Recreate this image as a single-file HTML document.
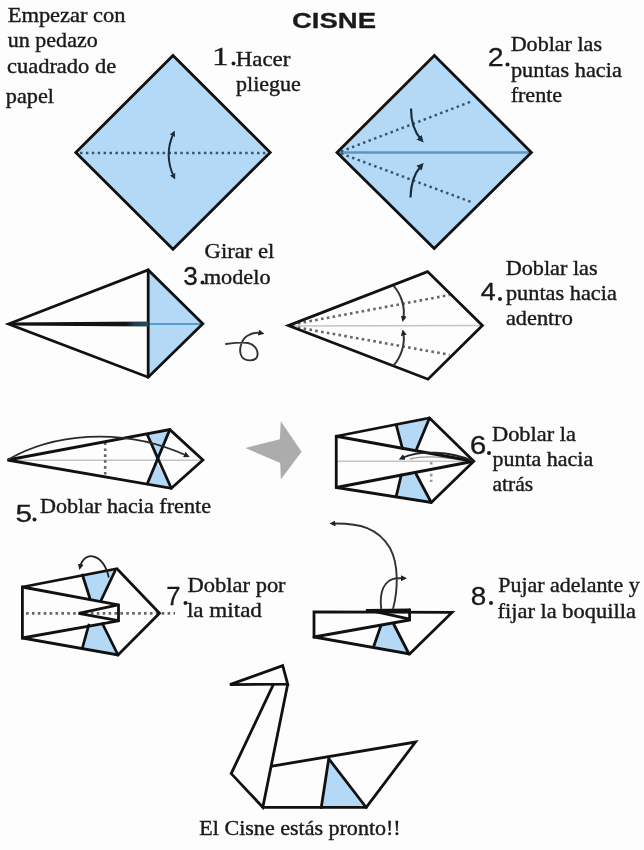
<!DOCTYPE html>
<html><head><meta charset="utf-8">
<style>
html,body{margin:0;padding:0;background:#fdfdfd;width:644px;height:850px;overflow:hidden}
svg{display:block;will-change:transform;filter:blur(0.3px)}
.t{font-family:"Liberation Serif",serif;font-size:21.5px;fill:#1a1a1a;stroke:#1a1a1a;stroke-width:0.4}
.n{font-family:"Liberation Sans",sans-serif;fill:#1a1a1a;stroke:#1a1a1a;stroke-width:0.3}
.k{stroke:#111;stroke-width:2.8;fill:none;stroke-linejoin:miter;stroke-miterlimit:3;stroke-linecap:round}
.bl{fill:#b4d9f6}
.dot{stroke:#38566c;stroke-width:2.5;stroke-dasharray:2.5 3.4;fill:none}
.gd{stroke:#666;stroke-width:2.6;stroke-dasharray:2.6 3.3;fill:none}
.thin{stroke:#222;stroke-width:1.7;fill:none;stroke-linecap:round}
.gray{stroke:#b8b8b8;stroke-width:1.6;fill:none}
</style></head><body>
<svg width="644" height="850" viewBox="0 0 644 850">
<defs>
<marker id="ah" markerUnits="userSpaceOnUse" markerWidth="8" markerHeight="8" refX="3" refY="3.5" orient="auto" viewBox="0 0 8 7">
<path d="M0,0 L7,3.5 L0,7 z" fill="#1d2d3a"/></marker>
<marker id="ahr" markerUnits="userSpaceOnUse" markerWidth="6.5" markerHeight="6.5" refX="3" refY="3.5" orient="auto-start-reverse" viewBox="0 0 8 7">
<path d="M0,0 L7,3.5 L0,7 z" fill="#1d2d3a"/></marker>
<marker id="ahk" markerUnits="userSpaceOnUse" markerWidth="8" markerHeight="8" refX="3" refY="3.5" orient="auto" viewBox="0 0 8 7">
<path d="M0,0 L7,3.5 L0,7 z" fill="#222"/></marker>
<marker id="ahs" markerUnits="userSpaceOnUse" markerWidth="6" markerHeight="6" refX="2.5" refY="3" orient="auto" viewBox="0 0 6 6">
<path d="M0,0 L6,3 L0,6 z" fill="#222"/></marker>
<linearGradient id="g3" x1="0" x2="1" y1="0" y2="0"><stop offset="0" stop-color="#111"/><stop offset="0.84" stop-color="#141414"/><stop offset="0.9" stop-color="#1d3d4a"/><stop offset="1" stop-color="#24505f"/></linearGradient>
</defs>
<!-- Step 1 -->
<polygon class="bl" points="173,55.5 270.2,152.4 173,249.2 75.8,152.4"/>
<line class="dot" x1="80" y1="152.9" x2="268" y2="152.9"/>
<path d="M173.4,133.5 Q163.8,155 173.7,176.5" stroke="#1d2d3a" stroke-width="2" fill="none" marker-start="url(#ahr)" marker-end="url(#ahr)"/>
<polygon class="k" points="173,55.5 270.2,152.4 173,249.2 75.8,152.4"/>

<!-- Step 2 -->
<polygon class="bl" points="434.4,55.6 531.4,152.4 434.2,248.5 337,152.5"/>
<line x1="339" y1="152.5" x2="530" y2="152.5" stroke="#5a97c4" stroke-width="2.5"/>
<line class="dot" x1="341" y1="151.5" x2="472.5" y2="101"/>
<line class="dot" x1="341" y1="153.5" x2="472.5" y2="202.5"/>
<polygon class="k" points="434.4,55.6 531.4,152.4 434.2,248.5 337,152.5"/>
<path d="M411,108.6 Q411,128 421,139.5" stroke="#1d2d3a" stroke-width="2.2" fill="none" marker-end="url(#ah)"/>
<path d="M410.5,197.5 Q411,177 421,166" stroke="#1d2d3a" stroke-width="2.2" fill="none" marker-end="url(#ah)"/>

<!-- Step 3 -->
<polygon class="bl" points="148.2,270 202.8,323.8 148.2,377.2"/>
<line x1="148.2" y1="324" x2="202" y2="324" stroke="#5a9dcc" stroke-width="2.2"/>
<polygon class="k" points="8.5,324 148.2,270 202.8,323.8 148.2,377.2"/>
<line class="k" x1="148.2" y1="270" x2="148.2" y2="377.2"/>
<polygon points="10,322.5 148.2,321.6 148.2,326.4 10,325.5" fill="url(#g3)"/>
<path d="M226,344 C234,343 242,342 248,343 C256,345 259,352 257,357 C255,361 246,362 242,357 C238,351 241,340 247,336 C252,333 256,332 261,333" stroke="#333" stroke-width="1.9" fill="none" stroke-linecap="round" marker-end="url(#ahs)"/>

<!-- Step 4 -->
<line x1="290" y1="326" x2="481" y2="325.5" stroke="#c4c4c4" stroke-width="1.5"/>
<line class="gd" x1="292" y1="324.5" x2="449.5" y2="295"/>
<line class="gd" x1="292" y1="326.5" x2="449.5" y2="354.8"/>
<polygon class="k" points="288.3,325.6 427.6,271.6 482.4,325.4 428,379.2"/>
<path d="M393.4,285.6 C401,294 405.5,307 403.3,318.5" stroke="#333" stroke-width="2" fill="none" marker-end="url(#ahs)"/>
<path d="M393.4,365.7 C401,357 405.5,344 403.3,333" stroke="#333" stroke-width="2" fill="none" marker-end="url(#ahs)"/>

<!-- Step 5 -->
<polygon class="bl" points="147.3,434.75 169.8,429.6 155.8,460.5"/>
<polygon class="bl" points="147.3,483.7 171.3,488.3 155.8,460.5"/>
<line x1="8" y1="460.3" x2="200" y2="460.3" stroke="#c4c4c4" stroke-width="1.5"/>
<line class="gd" x1="105.2" y1="442.5" x2="105.2" y2="475"/>
<polygon class="k" points="7.5,460 169.8,429.6 202.9,460 171.3,488.3"/>
<line class="k" x1="147.3" y1="434.75" x2="171.3" y2="488.3"/>
<line class="k" x1="169.8" y1="429.6" x2="147.3" y2="483.7"/>
<path d="M7.5,460 C50,435 120,425 186.5,455.5" stroke="#2a2a2a" stroke-width="1.8" fill="none" marker-end="url(#ahs)"/>

<!-- Gray arrow -->
<polygon fill="#acacac" points="245.4,447.9 279.8,439.2 280.8,421.2 301.6,451.7 280.8,479.4 280.2,463.1"/>

<!-- Step 6 -->
<polygon class="bl" points="396.25,425 429.5,418 416.25,450 402.5,448.75"/>
<polygon class="bl" points="396.25,496.25 431.25,502.5 416.25,474.25 401.25,475"/>
<line x1="337" y1="461.25" x2="472" y2="461.25" stroke="#c4c4c4" stroke-width="1.5"/>
<line class="gd" x1="431.2" y1="462" x2="431.2" y2="482" style="stroke:#999"/>
<path d="M470,462 C450,457 425,455 410,459" stroke="#999" stroke-width="1.4" fill="none"/>
<polygon class="k" points="336.25,436.25 429.5,418 473.75,461.25 431.25,502.5 336.25,487.5"/>
<polyline class="k" points="336.25,436.25 473.75,461.25 336.25,487.5"/>
<line class="k" x1="396.25" y1="425" x2="402.5" y2="448.75"/>
<line class="k" x1="429.5" y1="418" x2="416.25" y2="450"/>
<line class="k" x1="396.25" y1="496.25" x2="401.25" y2="475"/>
<line class="k" x1="431.25" y1="502.5" x2="416.25" y2="474.25"/>
<path d="M473,461 C450,451 420,450 402,458" stroke="#222" stroke-width="1.8" fill="none" marker-end="url(#ahs)"/>

<!-- Step 7 -->
<polygon class="bl" points="82.5,575 116,569.5 101.25,600 90,598.75"/>
<polygon class="bl" points="82.5,647.5 118,655 102.5,623.75 88.75,625"/>
<line class="gd" x1="26" y1="613.4" x2="175" y2="613.4"/>
<polygon class="k" points="22.4,587 117,568.75 159.5,613.2 118,655 22.4,638"/>
<polyline class="k" points="22.4,587 118.5,604.8 118.5,620.8 22.4,638"/>
<polyline class="k" points="117,605.2 78.6,613.3 117,620.4"/>
<line class="k" x1="82.5" y1="575" x2="90" y2="598.75"/>
<line class="k" x1="115" y1="571" x2="101.25" y2="600"/>
<line class="k" x1="82.5" y1="647.5" x2="88.75" y2="625"/>
<line class="k" x1="118" y1="655" x2="102.5" y2="623.75"/>
<path d="M108.8,577.5 C103,552.5 84,550.5 80.2,566.5" stroke="#222" stroke-width="1.8" fill="none" marker-end="url(#ahs)"/>

<!-- Step 8 -->
<polygon class="bl" points="381,625.4 393.4,623.5 409,654 373.5,647"/>
<polygon class="k" points="314,611.8 452,612.4 409.6,654 314,637"/>
<polyline class="k" points="314,637 409.6,620 409.6,610"/>
<polyline class="k" points="367,610.5 409.6,610 "/><line class="k" x1="372" y1="610.8" x2="409.6" y2="619.2"/>
<line class="k" x1="381" y1="625.4" x2="373.5" y2="647"/>
<line class="k" x1="393.4" y1="623.5" x2="409" y2="654"/>
<path d="M393,609 C398,590 399,565 390,548 C378,528 360,523 333,523.5" stroke="#333" stroke-width="1.9" fill="none" marker-end="url(#ahs)"/>
<path d="M381.3,609 C379,592 384,580 396,578.3 L403.5,578.2" stroke="#333" stroke-width="1.9" fill="none" marker-end="url(#ahs)"/>

<!-- Swan -->
<polygon class="bl" points="328.75,758.75 321.25,807.5 366.25,807.5"/>
<polygon class="k" points="229.9,684.6 282.7,665.6 287.7,684.2"/>
<polyline class="k" points="273.4,684.4 231.2,773.6 262.8,807.3 287.7,684.2"/>
<polyline class="k" points="272.2,766.1 415.5,742 366.25,807.4 262.8,807.3"/>
<polyline class="k" points="321.25,807.5 328.75,758.75 366.25,807.5"/>

<text x="292" y="28.3" class="n" font-weight="bold" font-size="22.7" textLength="84" lengthAdjust="spacingAndGlyphs">CISNE</text>
<text class="t" x="7.71" y="22" textLength="117.84" lengthAdjust="spacingAndGlyphs">Empezar con</text>
<text class="t" x="7.83" y="47.2" textLength="89.86" lengthAdjust="spacingAndGlyphs">un pedazo</text>
<text class="t" x="6.95" y="73.1" textLength="109.24" lengthAdjust="spacingAndGlyphs">cuadrado de</text>
<text class="t" x="5.76" y="103" textLength="48.22" lengthAdjust="spacingAndGlyphs">papel</text>
<text class="t" x="235.73" y="65.6" textLength="54.72" lengthAdjust="spacingAndGlyphs">Hacer</text>
<text class="t" x="236.08" y="90.8" textLength="64.73" lengthAdjust="spacingAndGlyphs">pliegue</text>
<text class="t" x="510.67" y="50.5" textLength="91.32" lengthAdjust="spacingAndGlyphs">Doblar las</text>
<text class="t" x="510.96" y="76.6" textLength="110.84" lengthAdjust="spacingAndGlyphs">puntas hacia</text>
<text class="t" x="510.67" y="102" textLength="51.5" lengthAdjust="spacingAndGlyphs">frente</text>
<text class="t" x="204.55" y="258.3" textLength="69.73" lengthAdjust="spacingAndGlyphs">Girar el</text>
<text class="t" x="203.77" y="283.9" textLength="66.75" lengthAdjust="spacingAndGlyphs">modelo</text>
<text class="t" x="505.67" y="274.8" textLength="91.93" lengthAdjust="spacingAndGlyphs">Doblar las</text>
<text class="t" x="505.96" y="300.3" textLength="110.84" lengthAdjust="spacingAndGlyphs">puntas hacia</text>
<text class="t" x="505.96" y="325.2" textLength="66.92" lengthAdjust="spacingAndGlyphs">adentro</text>
<text class="t" x="39.97" y="513" textLength="171.0" lengthAdjust="spacingAndGlyphs">Doblar hacia frente</text>
<text class="t" x="491.96" y="440.5" textLength="83.96" lengthAdjust="spacingAndGlyphs">Doblar la</text>
<text class="t" x="492.48" y="466" textLength="100.73" lengthAdjust="spacingAndGlyphs">punta hacia</text>
<text class="t" x="492.5" y="491.4" textLength="40.59" lengthAdjust="spacingAndGlyphs">atrás</text>
<text class="t" x="187.55" y="592.4" textLength="98.08" lengthAdjust="spacingAndGlyphs">Doblar por</text>
<text class="t" x="186.93" y="617.2" textLength="75.0" lengthAdjust="spacingAndGlyphs">la mitad</text>
<text class="t" x="498.18" y="592.4" textLength="141.55" lengthAdjust="spacingAndGlyphs">Pujar adelante y</text>
<text class="t" x="497.45" y="617.8" textLength="138.52" lengthAdjust="spacingAndGlyphs">fijar la boquilla</text>
<text class="t" x="199.38" y="835.3" textLength="201.34" lengthAdjust="spacingAndGlyphs">El Cisne estás pronto!!</text>
<text class="n" style="font-family:&quot;Liberation Serif&quot;" x="212.12" y="64.5" font-size="25.3" textLength="16.57" lengthAdjust="spacingAndGlyphs">1</text>
<text class="n" style="font-family:&quot;Liberation Sans&quot;" x="487.88" y="66.0" font-size="25.71" textLength="15.84" lengthAdjust="spacingAndGlyphs">2</text>
<text class="n" style="font-family:&quot;Liberation Sans&quot;" x="183.25" y="284.55" font-size="25.35" textLength="14.56" lengthAdjust="spacingAndGlyphs">3</text>
<text class="n" style="font-family:&quot;Liberation Sans&quot;" x="480.66" y="300.3" font-size="23.0" textLength="14.94" lengthAdjust="spacingAndGlyphs">4</text>
<text class="n" style="font-family:&quot;Liberation Sans&quot;" x="15.41" y="521.56" font-size="24.29" textLength="16.57" lengthAdjust="spacingAndGlyphs">5</text>
<text class="n" style="font-family:&quot;Liberation Sans&quot;" x="469.71" y="453.94" font-size="26.34" textLength="16.57" lengthAdjust="spacingAndGlyphs">6</text>
<text class="n" style="font-family:&quot;Liberation Sans&quot;" x="166.22" y="604.8" font-size="25.71" textLength="14.27" lengthAdjust="spacingAndGlyphs">7</text>
<text class="n" style="font-family:&quot;Liberation Sans&quot;" x="470.69" y="604.54" font-size="26.34" textLength="15.5" lengthAdjust="spacingAndGlyphs">8</text>
<circle cx="233.5" cy="63.5" r="2" fill="#1c1c1c"/>
<circle cx="507.5" cy="64.5" r="2" fill="#1c1c1c"/>
<circle cx="202.5" cy="282.5" r="2" fill="#1c1c1c"/>
<circle cx="500" cy="299" r="2" fill="#1c1c1c"/>
<circle cx="34.5" cy="519.5" r="2" fill="#1c1c1c"/>
<circle cx="489" cy="453" r="2" fill="#1c1c1c"/>
<circle cx="185.5" cy="603" r="2" fill="#1c1c1c"/>
<circle cx="491" cy="603" r="2" fill="#1c1c1c"/>
</svg>
</body></html>
